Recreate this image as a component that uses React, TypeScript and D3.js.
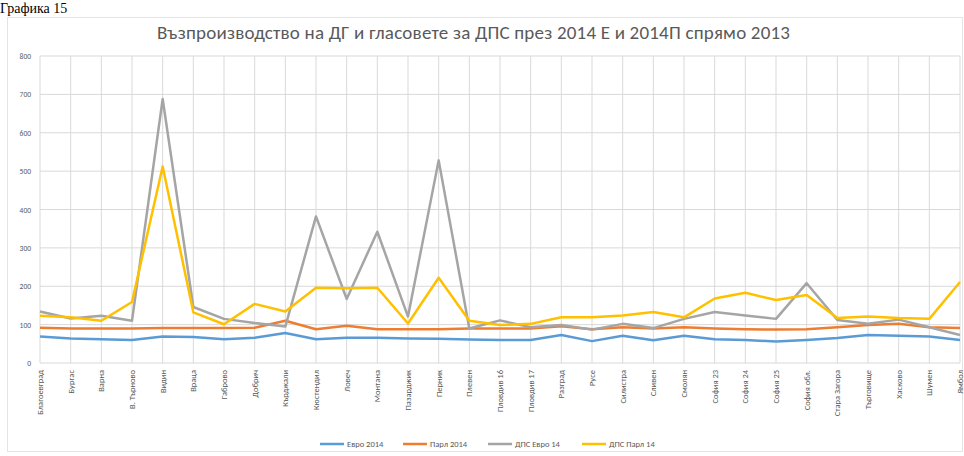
import React, { useRef, useEffect } from 'react';
import * as d3 from 'd3';

const districts = [
  'Благоевград', 'Бургас', 'Варна', 'В. Търново', 'Видин', 'Враца', 'Габрово', 'Добрич',
  'Кърджали', 'Кюстендил', 'Ловеч', 'Монтана', 'Пазарджик', 'Перник', 'Плевен', 'Пловдив 16',
  'Пловдив 17', 'Разград', 'Русе', 'Силистра', 'Сливен', 'Смолян', 'София 23', 'София 24',
  'София 25', 'София обл.', 'Стара Загора', 'Търговище', 'Хасково', 'Шумен', 'Ямбол',
];

const evro2014 = [69, 64, 62, 60, 69, 68, 62, 66, 78, 62, 66, 66, 64, 63, 61, 60, 60, 73, 57, 71, 59, 71, 62, 60, 56, 60, 65, 73, 71, 69, 60];
const parl2014 = [92, 90, 90, 90, 91, 91, 91, 92, 110, 88, 97, 88, 88, 88, 90, 90, 90, 96, 88, 93, 90, 93, 90, 88, 87, 88, 93, 99, 102, 93, 91];
const dpsEvro14 = [134, 116, 123, 110, 688, 146, 115, 104, 95, 382, 167, 342, 121, 528, 90, 111, 93, 99, 87, 102, 91, 115, 133, 124, 115, 208, 112, 102, 113, 93, 73];
const dpsParl14 = [123, 119, 110, 159, 512, 132, 101, 154, 134, 196, 195, 196, 103, 222, 110, 99, 102, 119, 119, 124, 133, 119, 168, 183, 164, 177, 117, 121, 117, 115, 211];

const seriesNames = ['Евро 2014', 'Парл 2014', 'ДПС Евро 14', 'ДПС Парл 14'];
const seriesColors = ['#5b9bd5', '#ed7d31', '#a5a5a5', '#ffc000'];
const yTicks = [0, 100, 200, 300, 400, 500, 600, 700, 800];

const W = 964;
const H = 456;

const Chart: React.FC = () => {
  const ref = useRef<SVGSVGElement | null>(null);

  useEffect(() => {
    if (!ref.current) return;
    const svg = d3.select(ref.current);
    svg.selectAll('*').remove();

    const font = 'Calibri, Carlito, "Open Sans", "Liberation Sans", sans-serif';
    const margin = { top: 56, right: 4, bottom: 93, left: 40 };

    const x = d3.scalePoint<string>().domain(districts).range([margin.left, W - margin.right]);
    const y = d3.scaleLinear().domain([0, 800]).range([H - margin.bottom, margin.top]);

    // page caption above the chart box
    svg.append('text')
      .attr('x', 0).attr('y', 13)
      .attr('font-family', '"Liberation Serif", "DejaVu Serif", serif')
      .attr('font-size', 14)
      .attr('fill', '#000')
      .text('Графика 15');

    // chart frame
    svg.append('rect')
      .attr('x', 7.5).attr('y', 17.5)
      .attr('width', W - 9).attr('height', H - 22)
      .attr('fill', '#fff')
      .attr('stroke', '#e4e4e4');

    svg.append('text')
      .attr('x', 157).attr('y', 39)
      .attr('textLength', 633)
      .attr('lengthAdjust', 'spacing')
      .attr('font-family', font)
      .attr('font-size', 19)
      .attr('fill', '#595959')
      .text('Възпроизводство на ДГ и гласовете за ДПС през 2014 Е и 2014П спрямо 2013');

    // gridlines
    svg.append('g')
      .selectAll('line')
      .data(yTicks)
      .join('line')
      .attr('x1', margin.left).attr('x2', W - margin.right)
      .attr('y1', d => y(d)).attr('y2', d => y(d))
      .attr('stroke', '#d9d9d9').attr('stroke-width', 1);

    svg.append('g')
      .selectAll('line')
      .data(districts)
      .join('line')
      .attr('x1', d => x(d)!).attr('x2', d => x(d)!)
      .attr('y1', y(800)).attr('y2', y(0))
      .attr('stroke', '#d9d9d9').attr('stroke-width', 1);

    // y labels
    svg.append('g')
      .selectAll('text')
      .data(yTicks)
      .join('text')
      .attr('x', 31).attr('y', d => y(d) + 3)
      .attr('text-anchor', 'end')
      .attr('font-family', font)
      .attr('font-size', 7.5)
      .attr('fill', '#595959')
      .text(d => d);

    // x labels
    svg.append('g')
      .selectAll('text')
      .data(districts)
      .join('text')
      .attr('transform', d => `translate(${x(d)! + 3},${y(0) + 7}) rotate(-90)`)
      .attr('text-anchor', 'end')
      .attr('font-family', font)
      .attr('font-size', 8.5)
      .attr('fill', '#595959')
      .text(d => d);

    const allSeries = [evro2014, parl2014, dpsEvro14, dpsParl14];
    const line = d3.line<number>()
      .x((_, i) => x(districts[i])!)
      .y(d => y(d));

    allSeries.forEach((vals, k) => {
      svg.append('path')
        .datum(vals)
        .attr('fill', 'none')
        .attr('stroke', seriesColors[k])
        .attr('stroke-width', 2.5)
        .attr('stroke-linejoin', 'round')
        .attr('d', line);
    });

    // legend
    const legendX = [320, 403, 488, 582];
    const lg = svg.append('g');
    seriesNames.forEach((name, k) => {
      lg.append('line')
        .attr('x1', legendX[k]).attr('x2', legendX[k] + 24)
        .attr('y1', 444).attr('y2', 444)
        .attr('stroke', seriesColors[k]).attr('stroke-width', 2.5);
      lg.append('text')
        .attr('x', legendX[k] + 27).attr('y', 447)
        .attr('font-family', font)
        .attr('font-size', 8.5)
        .attr('fill', '#595959')
        .text(name);
    });
  }, []);

  return <svg ref={ref} width={W} height={H} style={{ display: 'block' }} />;
};

export default function App() {
  return (
    <>
      <style>{'body{margin:0;}'}</style>
      <Chart />
    </>
  );
}
